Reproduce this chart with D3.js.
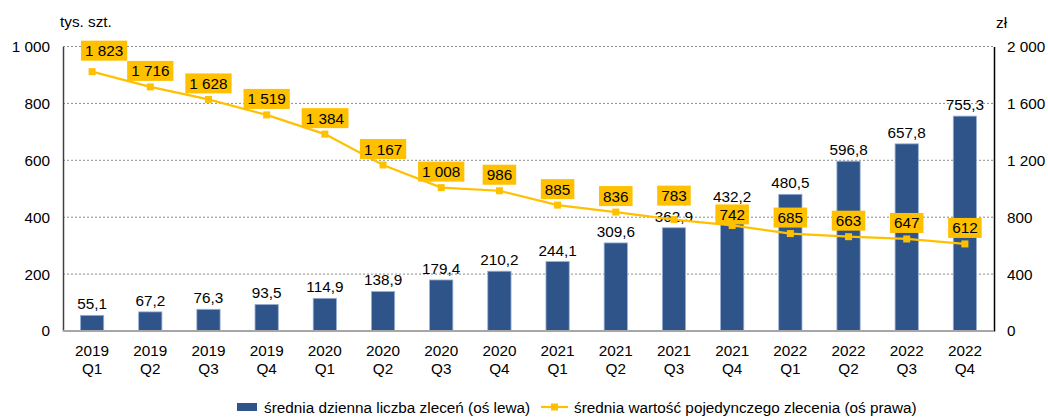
<!DOCTYPE html>
<html>
<head>
<meta charset="utf-8">
<script src="https://cdn.jsdelivr.net/npm/d3@7"></script>
<style>
  body { margin: 0; background: #fff; }
  svg { display: block; font-family: "Liberation Sans", Arial, sans-serif; }
</style>
</head>
<body>
<script>
const years = ["2019","2019","2019","2019","2020","2020","2020","2020","2021","2021","2021","2021","2022","2022","2022","2022"];
const quarters = ["Q1","Q2","Q3","Q4","Q1","Q2","Q3","Q4","Q1","Q2","Q3","Q4","Q1","Q2","Q3","Q4"];
const orders = [55.1, 67.2, 76.3, 93.5, 114.9, 138.9, 179.4, 210.2, 244.1, 309.6, 362.9, 432.2, 480.5, 596.8, 657.8, 755.3];
const avgValue = [1823, 1716, 1628, 1519, 1384, 1167, 1008, 986, 885, 836, 783, 742, 685, 663, 647, 612];
const leftTicks = [0, 200, 400, 600, 800, 1000];
const rightTicks = [0, 400, 800, 1200, 1600, 2000];

const width = 1048, height = 417;
const margin = {top: 46.5, right: 54, bottom: 86, left: 63};
const fs = 15.3;
const fmt = v => d3.format(",")(v).replace(/,/g, "\u00a0");
const fmtDec = v => v.toFixed(1).replace(".", ",");

const svg = d3.select("body").append("svg")
    .attr("width", width)
    .attr("height", height);

const x = d3.scaleBand()
    .domain(d3.range(orders.length))
    .range([margin.left, width - margin.right])
    .paddingInner(0.6)
    .paddingOuter(0.3);

const yL = d3.scaleLinear().domain([0, 1000]).range([height - margin.bottom, margin.top]);
const yR = d3.scaleLinear().domain([0, 2000]).range([height - margin.bottom, margin.top]);

// gridlines
svg.append("g")
    .selectAll("line")
    .data(leftTicks.filter(d => d > 0))
    .join("line")
    .attr("x1", margin.left)
    .attr("x2", width - margin.right)
    .attr("y1", d => yL(d))
    .attr("y2", d => yL(d))
    .attr("stroke", "#8c8c8c")
    .attr("stroke-width", 1)
    .attr("stroke-dasharray", "2,2");

// left axis
const axL = svg.append("g")
    .attr("transform", `translate(${margin.left},0)`)
    .call(d3.axisLeft(yL).tickValues(leftTicks).tickFormat(fmt).tickSize(0).tickPadding(13));
axL.select(".domain").attr("stroke", "#404040").attr("stroke-width", 1.5);
axL.selectAll("text").attr("font-size", fs).attr("fill", "#000").attr("font-family", "Liberation Sans, Arial, sans-serif");

// right axis
const axR = svg.append("g")
    .attr("transform", `translate(${width - margin.right},0)`)
    .call(d3.axisRight(yR).tickValues(rightTicks).tickFormat(fmt).tickSize(0).tickPadding(13));
axR.select(".domain").attr("stroke", "#000").attr("stroke-width", 1.5);
axR.selectAll("text").attr("font-size", fs).attr("fill", "#000").attr("font-family", "Liberation Sans, Arial, sans-serif");

svg.append("text").attr("x", 60).attr("y", 27).attr("font-size", fs).text("tys. szt.");
svg.append("text").attr("x", 996).attr("y", 28).attr("font-size", fs).text("zł");

// bars
svg.append("g")
    .selectAll("rect")
    .data(orders)
    .join("rect")
    .attr("x", (d, i) => x(i))
    .attr("y", d => yL(d))
    .attr("width", x.bandwidth())
    .attr("height", d => yL(0) - yL(d))
    .attr("fill", "#2f5489")
    .attr("stroke", "#9bb1d6")
    .attr("stroke-width", 0.8);

// bottom axis line
svg.append("line")
    .attr("x1", margin.left)
    .attr("x2", width - margin.right)
    .attr("y1", yL(0))
    .attr("y2", yL(0))
    .attr("stroke", "#a6a6a6")
    .attr("stroke-width", 2);

// x labels
const xl = svg.append("g")
    .selectAll("text")
    .data(d3.range(orders.length))
    .join("text")
    .attr("text-anchor", "middle")
    .attr("font-size", fs)
    .attr("x", i => x(i) + x.bandwidth() / 2)
    .attr("y", height - margin.bottom + 25);
xl.append("tspan").attr("x", i => x(i) + x.bandwidth() / 2).text(i => years[i]);
xl.append("tspan").attr("x", i => x(i) + x.bandwidth() / 2).attr("dy", 18).text(i => quarters[i]);

// bar labels
svg.append("g")
    .selectAll("text")
    .data(orders)
    .join("text")
    .attr("text-anchor", "middle")
    .attr("font-size", fs)
    .attr("x", (d, i) => x(i) + x.bandwidth() / 2)
    .attr("y", d => yL(d) - 6)
    .text(d => fmtDec(d));

// line
const cx = i => x(i) + x.bandwidth() / 2;
const line = d3.line().x((d, i) => cx(i)).y(d => yR(d));

svg.append("path")
    .datum(avgValue)
    .attr("d", line)
    .attr("fill", "none")
    .attr("stroke", "#ffc000")
    .attr("stroke-width", 2.2);

svg.append("g")
    .selectAll("rect")
    .data(avgValue)
    .join("rect")
    .attr("x", (d, i) => cx(i) - 3.5)
    .attr("y", d => yR(d) - 3.5)
    .attr("width", 7)
    .attr("height", 7)
    .attr("fill", "#ffc000");

// line labels (a few nudged to clear the bar labels, like the original)
const lift = i => i === 0 ? 21 : i === 10 ? 24 : i === 11 ? 11 : 16;
const lbl = svg.append("g")
    .selectAll("g")
    .data(avgValue)
    .join("g")
    .attr("transform", (d, i) => `translate(${cx(i) + (i === 0 ? 12 : 0)},${yR(d) - lift(i)})`);

lbl.append("text")
    .attr("text-anchor", "middle")
    .attr("dy", "0.36em")
    .attr("font-size", fs)
    .text(d => fmt(d))
    .each(function () {
        const b = this.getBBox();
        d3.select(this.parentNode).insert("rect", "text")
            .attr("x", b.x - 4)
            .attr("y", -10)
            .attr("width", b.width + 8)
            .attr("height", 20)
            .attr("fill", "#ffc000");
    });

// legend
const lg = svg.append("g").attr("transform", "translate(0,407)");
lg.append("rect").attr("x", 237).attr("y", -4).attr("width", 20).attr("height", 8).attr("fill", "#2f5489");
lg.append("text").attr("x", 264).attr("y", 5.5).attr("font-size", fs).text("średnia dzienna liczba zleceń (oś lewa)");
lg.append("line").attr("x1", 541).attr("x2", 568).attr("y1", 0).attr("y2", 0).attr("stroke", "#ffc000").attr("stroke-width", 2.2);
lg.append("rect").attr("x", 551).attr("y", -3.5).attr("width", 7).attr("height", 7).attr("fill", "#ffc000");
lg.append("text").attr("x", 574).attr("y", 5.5).attr("font-size", fs).text("średnia wartość pojedynczego zlecenia (oś prawa)");
</script>
</body>
</html>
